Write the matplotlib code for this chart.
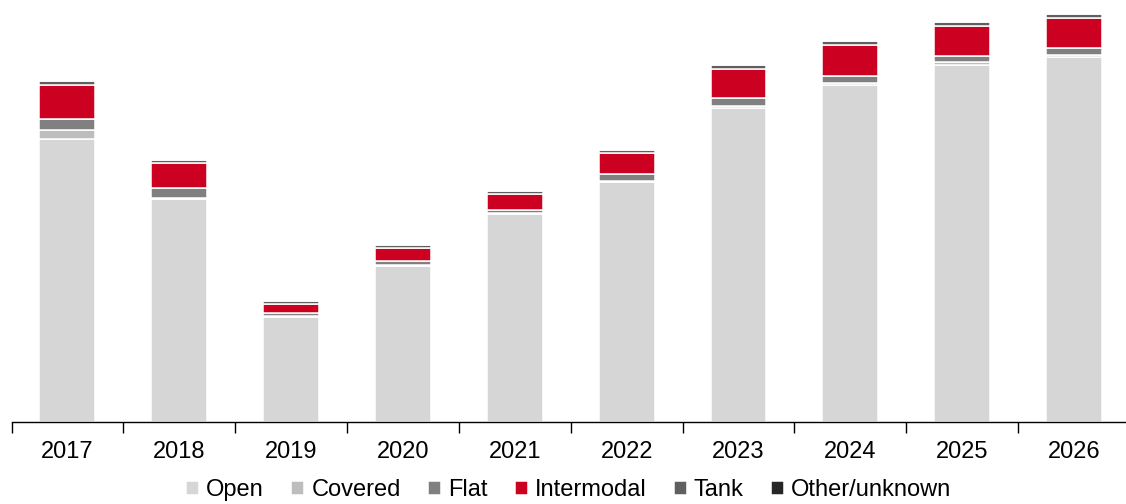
import matplotlib
matplotlib.use("Agg")
import matplotlib.pyplot as plt
import numpy as np

plt.rcParams["font.family"] = ["Liberation Sans", "DejaVu Sans"]

years        = ["2017", "2018", "2019", "2020", "2021", "2022", "2023", "2024", "2025", "2026"]
open_cars    = [283.3, 223.0, 105.5, 156.5, 208.5, 240.5, 314.5, 337.0, 357.5, 365.0]
covered      = [9.0, 1.5, 1.0, 1.0, 1.0, 1.0, 2.0, 2.5, 2.5, 2.5]
flat         = [11.0, 9.5, 2.5, 4.0, 3.0, 6.5, 7.5, 7.0, 6.5, 6.5]
intermodal   = [34.0, 25.0, 9.5, 13.0, 16.0, 21.0, 29.0, 31.0, 30.0, 30.5]
tank         = [4.0, 3.5, 2.5, 2.5, 3.0, 3.0, 4.0, 4.0, 4.0, 4.0]
other        = [0.5, 0.5, 0.3, 0.3, 0.3, 0.3, 0.5, 0.5, 0.5, 0.5]

series = [
    ("Open",          open_cars,  "#d6d6d6"),
    ("Covered",       covered,    "#bdbdbd"),
    ("Flat",          flat,       "#808080"),
    ("Intermodal",    intermodal, "#cc0020"),
    ("Tank",          tank,       "#606060"),
    ("Other/unknown", other,      "#262626"),
]

fig = plt.figure(figsize=(11.26, 5.04), dpi=100)
ax = fig.add_axes([11.5 / 1126, 82 / 504, (1130 - 11.5) / 1126, 422 / 504])

x = np.arange(len(years))
bottom = np.zeros(len(years))
for name, vals, col in series:
    ax.bar(x, vals, 0.5, bottom=bottom, color=col, edgecolor="white",
           linewidth=1.1, label=name)
    bottom += np.array(vals)

ax.set_xlim(-0.5, len(years) - 0.5)
ax.set_ylim(0, 422)

for s in ["top", "right", "left"]:
    ax.spines[s].set_visible(False)
ax.spines["bottom"].set_color("#000000")
ax.spines["bottom"].set_linewidth(1.0)
ax.set_yticks([])

# boundary ticks without labels, year labels on the bar centres
ax.set_xticks(np.arange(-0.5, len(years), 1.0))
ax.set_xticklabels([])
ax.tick_params(axis="x", which="major", direction="out", length=8, width=1.0)
ax.set_xticks(x, minor=True)
ax.set_xticklabels(years, minor=True, fontsize=17)
ax.tick_params(axis="x", which="minor", length=0, pad=14)

fig.legend(loc="center", bbox_to_anchor=(0.505, 0.027), ncol=6, frameon=False,
           fontsize=17, handlelength=0.55, handleheight=0.55, handletextpad=0.3,
           columnspacing=1.15, borderaxespad=0)

fig.savefig("out.png", dpi=100)
